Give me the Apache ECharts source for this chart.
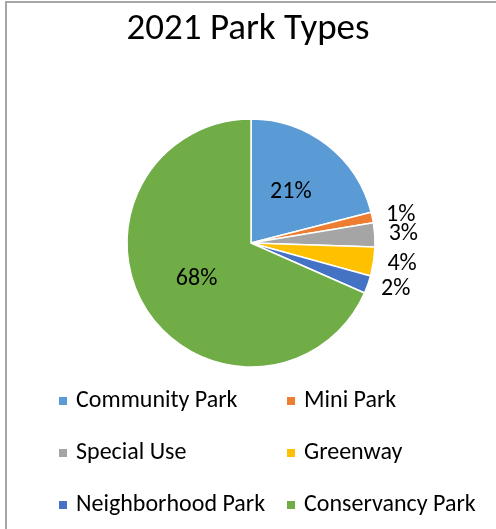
<!DOCTYPE html>
<html>
<head>
<meta charset="utf-8">
<script src="https://cdn.jsdelivr.net/npm/echarts@6/dist/echarts.min.js"></script>
<style>
  html, body { margin: 0; padding: 0; background: #fff; }
  #main { width: 496px; height: 529px; }
</style>
</head>
<body>
<div id="main"></div>
<script>
// data
var parkTypes = ['Community Park', 'Mini Park', 'Special Use', 'Greenway', 'Neighborhood Park', 'Conservancy Park'];
var parkShares = [21.0, 1.4, 3.1, 3.8, 2.3, 68.4];
var bigSlices = ['Community Park', 'Conservancy Park']; // labelled inside the pie
var palette = ['#5B9BD5', '#ED7D31', '#A5A5A5', '#FFC000', '#4472C4', '#70AD47'];

var font = 'Carlito, Lato, sans-serif';

var pieData = [];
for (var i = 0; i < parkTypes.length; i++) {
    var item = { name: parkTypes[i], value: parkShares[i] };
    if (bigSlices.indexOf(parkTypes[i]) >= 0) {
        item.label = { position: 'inside' };
    }
    pieData.push(item);
}

var myChart = echarts.init(document.getElementById('main'));
var option = {
    color: palette,
    animation: false,
    title: {
        text: '2021 Park Types',
        left: 'center',
        top: 6,
        textStyle: { fontFamily: font, fontSize: 37, fontWeight: 'normal', color: '#000' }
    },
    legend: [
        {
            orient: 'vertical',
            left: 52,
            top: 384,
            itemWidth: 10,
            itemHeight: 10,
            itemGap: 28,
            icon: 'rect',
            data: [parkTypes[0], parkTypes[2], parkTypes[4]],
            textStyle: { fontFamily: font, fontSize: 24, lineHeight: 24, color: '#000', padding: [0, 0, 0, 3] }
        },
        {
            orient: 'vertical',
            left: 280,
            top: 384,
            itemWidth: 10,
            itemHeight: 10,
            itemGap: 28,
            icon: 'rect',
            data: [parkTypes[1], parkTypes[3], parkTypes[5]],
            textStyle: { fontFamily: font, fontSize: 24, lineHeight: 24, color: '#000', padding: [0, 0, 0, 3] }
        }
    ],
    graphic: [
        { type: 'line', shape: { x1: 6, y1: 2, x2: 6, y2: 529 }, style: { stroke: '#a6a6a6', lineWidth: 2 } },
        { type: 'line', shape: { x1: 5, y1: 2, x2: 496, y2: 2 }, style: { stroke: '#a6a6a6', lineWidth: 2 } }
    ],
    series: [
        {
            type: 'pie',
            center: [251, 243],
            radius: [0, 124],
            startAngle: 90,
            clockwise: true,
            avoidLabelOverlap: false,
            percentPrecision: 2,
            itemStyle: { borderColor: '#fff', borderWidth: 1.5 },
            label: {
                show: true,
                position: 'outside',
                distanceToLabelLine: 0,
                fontFamily: font,
                fontSize: 24,
                color: '#000',
                formatter: function (p) {
                    return Math.round(p.percent) + '%';
                }
            },
            labelLine: { show: false, length: 14, length2: 0 },
            labelLayout: { hideOverlap: false },
            emphasis: { disabled: true },
            data: pieData
        }
    ]
};
myChart.setOption(option);
</script>
</body>
</html>
